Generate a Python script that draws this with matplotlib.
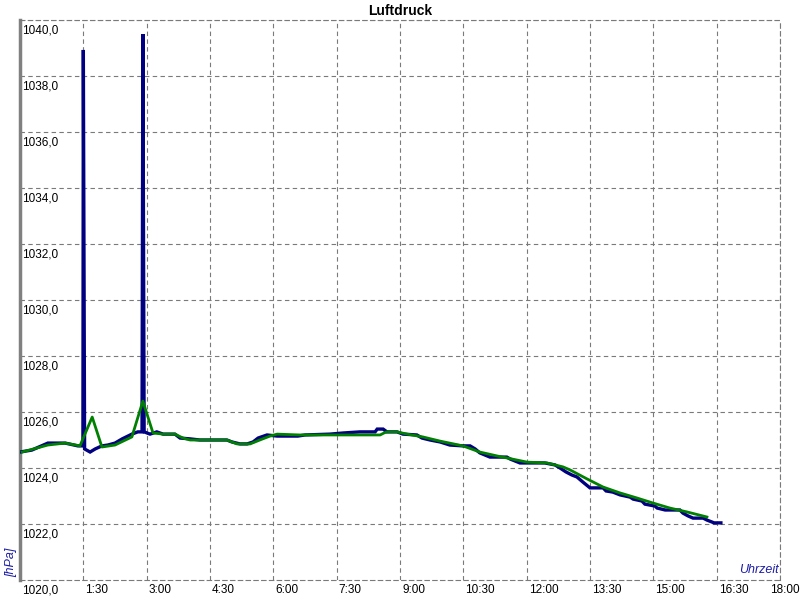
import matplotlib
matplotlib.use("Agg")
import matplotlib.pyplot as plt
import matplotlib.transforms as mtransforms

plt.rcParams['font.family'] = ['Liberation Sans', 'DejaVu Sans']

# --- data (time in hours, pressure in hPa) ---
raw_t = [0.00, 0.28, 0.66, 1.07, 1.37, 1.49, 1.50, 1.53, 1.66, 1.78, 1.94, 2.08, 2.25,
         2.42, 2.65, 2.79, 2.89, 2.91, 2.94, 3.08, 3.24, 3.39, 3.67, 3.79, 4.03, 4.26,
         4.90, 5.02, 5.21, 5.38, 5.52, 5.64, 5.85, 6.09, 6.58, 6.75, 7.34, 7.65, 8.05,
         8.41, 8.46, 8.60, 8.69, 8.93, 9.07, 9.40, 9.52, 9.71, 9.95, 10.18, 10.49, 10.66,
         10.78, 10.89, 11.13, 11.53, 11.61, 11.84, 12.43, 12.67, 12.79, 12.93, 13.07,
         13.19, 13.33, 13.50, 13.81, 13.88, 14.04, 14.21, 14.45, 14.52, 14.73, 14.80,
         15.04, 15.09, 15.28, 15.63, 15.70, 15.82, 15.94, 16.18, 16.27, 16.39, 16.44, 16.60]
raw_p = [1024.57, 1024.64, 1024.89, 1024.89, 1024.79, 1024.79, 1038.93, 1024.68, 1024.57,
         1024.68, 1024.79, 1024.82, 1024.89, 1025.04, 1025.21, 1025.29, 1025.29, 1039.50,
         1025.29, 1025.21, 1025.29, 1025.21, 1025.21, 1025.07, 1025.04, 1025.00, 1025.00,
         1024.93, 1024.86, 1024.86, 1024.93, 1025.07, 1025.18, 1025.14, 1025.14, 1025.18,
         1025.21, 1025.25, 1025.29, 1025.29, 1025.39, 1025.39, 1025.29, 1025.29, 1025.21,
         1025.18, 1025.07, 1025.00, 1024.93, 1024.82, 1024.79, 1024.79, 1024.68, 1024.54,
         1024.39, 1024.39, 1024.32, 1024.18, 1024.18, 1024.11, 1024.00, 1023.86, 1023.75,
         1023.68, 1023.50, 1023.29, 1023.29, 1023.18, 1023.14, 1023.04, 1022.96, 1022.89,
         1022.82, 1022.71, 1022.64, 1022.57, 1022.50, 1022.50, 1022.39, 1022.29, 1022.21,
         1022.21, 1022.14, 1022.07, 1022.04, 1022.04]

smooth_t = [0.05, 0.66, 1.07, 1.42, 1.71, 1.94, 2.25, 2.65, 2.91, 3.15, 3.39, 3.67, 3.86,
            4.03, 4.90, 5.14, 5.45, 5.68, 5.92, 6.09, 6.63, 8.53, 8.62, 8.69, 8.93, 9.17,
            9.54, 9.95, 10.49, 10.89, 11.30, 12.01, 12.48, 12.86, 13.03, 13.43, 13.81,
            14.21, 14.61, 14.99, 15.39, 15.80, 16.27]
smooth_p = [1024.57, 1024.82, 1024.89, 1024.79, 1025.82, 1024.75, 1024.82, 1025.11, 1026.39,
            1025.25, 1025.21, 1025.21, 1025.07, 1025.00, 1025.00, 1024.86, 1024.86, 1025.00,
            1025.14, 1025.21, 1025.18, 1025.18, 1025.25, 1025.29, 1025.29, 1025.21, 1025.11,
            1024.96, 1024.79, 1024.57, 1024.43, 1024.21, 1024.18, 1024.04, 1023.93, 1023.61,
            1023.32, 1023.11, 1022.93, 1022.75, 1022.57, 1022.43, 1022.25]

x_ticks = [1.5, 3.0, 4.5, 6.0, 7.5, 9.0, 10.5, 12.0, 13.5, 15.0, 16.5, 18.0]
x_labels = ["1:30", "3:00", "4:30", "6:00", "7:30", "9:00", "10:30", "12:00",
            "13:30", "15:00", "16:30", "18:00"]
y_ticks = [1022, 1024, 1026, 1028, 1030, 1032, 1034, 1036, 1038, 1040]
y_labels = ["1022,0", "1024,0", "1026,0", "1028,0", "1030,0", "1032,0", "1034,0",
            "1036,0", "1038,0", "1040,0"]

fig = plt.figure(figsize=(8, 6), dpi=100)
ax = fig.add_axes([20/800, 20/600, 760/800, 560/600])
ax.set_xlim(0, 18)
ax.set_ylim(1020, 1040)

ax.set_xticks(x_ticks)
ax.set_yticks(y_ticks)
ax.tick_params(length=0, labelbottom=False, labelleft=False)
dash = (0, (4, 3))
ax.grid(True, color='#7a7a7a', linestyle=dash, linewidth=0.8)

for s in ['top', 'right', 'bottom']:
    ax.spines[s].set_color('#7a7a7a')
    ax.spines[s].set_linestyle(dash)
    ax.spines[s].set_linewidth(0.8)
ax.spines['left'].set_color('#808080')
ax.spines['left'].set_linewidth(2.5)

ax.plot(raw_t, raw_p, color='#000080', linewidth=2.4, solid_joinstyle='miter', zorder=3)
ax.plot(smooth_t, smooth_p, color='#008000', linewidth=2.0, zorder=4)

# tick labels
off = mtransforms.offset_copy
tr_y = mtransforms.blended_transform_factory(ax.transAxes, ax.transData)
for v, lab in zip(y_ticks, y_labels):
    ax.text(0.0, v, lab, transform=off(tr_y, fig=fig, x=1.5, y=-3, units='points'),
            ha='left', va='top', fontsize=8.5, color='black', clip_on=False)
tr_x = mtransforms.blended_transform_factory(ax.transData, ax.transAxes)
for v, lab in zip(x_ticks, x_labels):
    if v >= 18.0:
        # last label kept fully inside the figure
        ax.text(v, 0.0, lab, transform=off(tr_x, fig=fig, x=14.5, y=-3, units='points'),
                ha='right', va='top', fontsize=8.5, color='black', clip_on=False)
    else:
        ax.text(v, 0.0, lab, transform=off(tr_x, fig=fig, x=1.5, y=-3, units='points'),
                ha='left', va='top', fontsize=8.5, color='black', clip_on=False)
ax.text(0.0, 1020, "1020,0", transform=off(tr_y, fig=fig, x=1.5, y=-3, units='points'),
        ha='left', va='top', fontsize=8.5, color='black', clip_on=False)

fig.text(400/800, 1 - 11/600, "Luftdruck", ha='center', va='center',
         fontsize=10, fontweight='bold')
fig.text(11/800, 1 - 562/600, "[hPa]", rotation=90, ha='center', va='center',
         fontsize=9, style='italic', color='#1c1ca8')
fig.text(779/800, 1 - 570/600, "Uhrzeit", ha='right', va='center',
         fontsize=9, style='italic', color='#1c1ca8')

fig.savefig("out.png", dpi=100)
